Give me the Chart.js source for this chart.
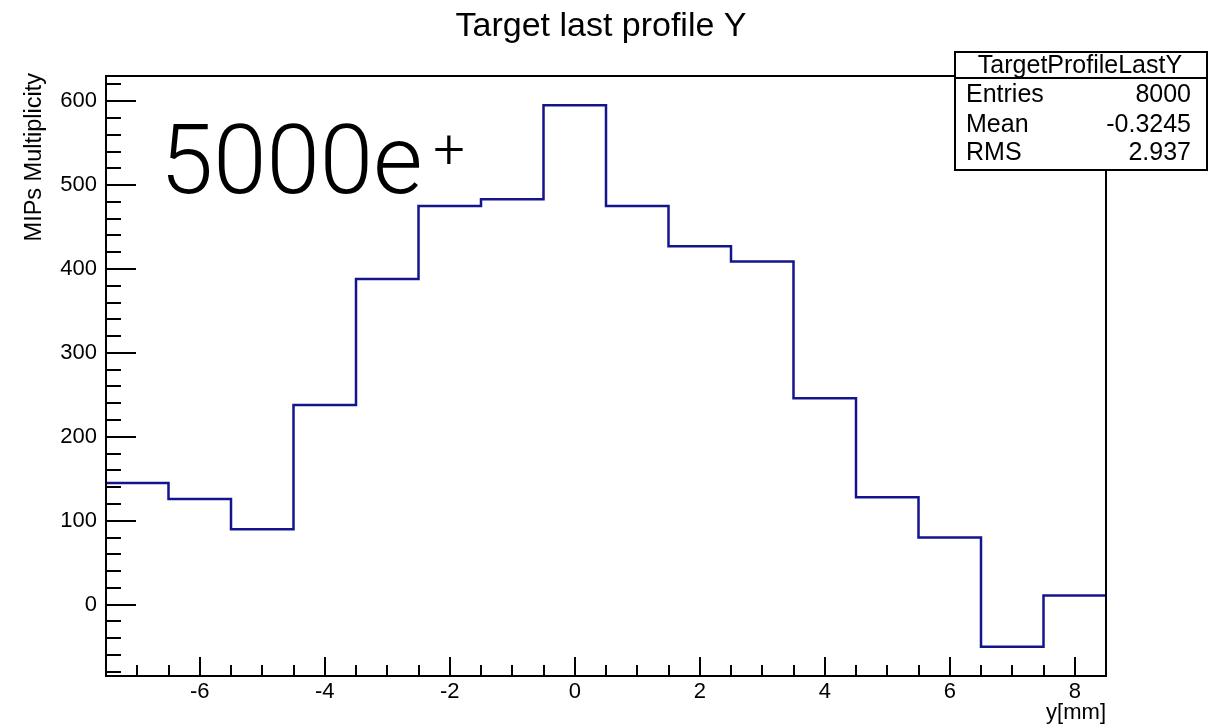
<!DOCTYPE html>
<html>
<head>
<meta charset="utf-8">
<script src="https://cdn.jsdelivr.net/npm/chart.js@4.4.0/dist/chart.umd.min.js"></script>
<style>
html, body { margin: 0; padding: 0; background: #fff; }
canvas { display: block; }
</style>
</head>
<body>
<canvas id="profile" width="1222" height="726"></canvas>
<script>
// histogram bins (centers, width 1 mm) and contents
var binCenters = [-7, -6, -5, -4, -3, -2, -1, 0, 1, 2, 3, 4, 5, 6, 7, 8];
var binValues = [145, 126, 90, 238, 388, 475, 483, 595, 475, 427, 409, 246, 128, 80, -50, 11];
var xTickLabels = [-6, -4, -2, 0, 2, 4, 6, 8];
var yTickLabels = [0, 100, 200, 300, 400, 500, 600];
var statNames = ['Entries', 'Mean', 'RMS'];
var statValues = ['8000', '-0.3245', '2.937'];

var FONT = '"Liberation Sans", Arial, sans-serif';

// histogram outline: one point per low edge, plus the last upper edge
var histPoints = [];
for (let i = 0; i < binCenters.length; i++) {
	histPoints.push({x: binCenters[i] - 0.5, y: binValues[i]});
}
histPoints.push({x: binCenters[binCenters.length - 1] + 0.5, y: binValues[binValues.length - 1]});

function drawText(ctx, s, x, y, size, align, baseline, weight, family){
	ctx.save();
	ctx.font = (weight || 'normal') + ' ' + size + 'px ' + (family || FONT);
	ctx.textAlign = align;
	ctx.textBaseline = baseline;
	ctx.fillStyle = '#000';
	ctx.fillText(s, x, y);
	ctx.restore();
}

var rootFrame = {
	id: 'rootFrame',
	afterDatasetsDraw(chart){
		const ctx = chart.ctx;
		const a = chart.chartArea;
		const xs = chart.scales.x;
		const ys = chart.scales.y;

		ctx.save();
		ctx.strokeStyle = '#000';
		ctx.lineWidth = 2;
		ctx.strokeRect(a.left, a.top, a.right - a.left, a.bottom - a.top);

		// y ticks, pointing inwards
		ctx.beginPath();
		for (let v = -80; v <= 620; v += 20) {
			let py = Math.round(ys.getPixelForValue(v));
			let len = (v % 100 === 0) ? 30 : 15;
			ctx.moveTo(a.left, py);
			ctx.lineTo(a.left + len, py);
		}
		// x ticks
		for (let v = -7; v <= 8; v += 0.5) {
			let px = Math.round(xs.getPixelForValue(v));
			let len = (v % 2 === 0) ? 19 : 11;
			ctx.moveTo(px, a.bottom);
			ctx.lineTo(px, a.bottom - len);
		}
		ctx.stroke();
		ctx.restore();

		yTickLabels.forEach(function(v){
			drawText(ctx, String(v), a.left - 9, ys.getPixelForValue(v), 22, 'right', 'middle');
		});
		xTickLabels.forEach(function(v){
			drawText(ctx, String(v), xs.getPixelForValue(v), a.bottom + 16, 22, 'center', 'middle');
		});
		drawText(ctx, 'y[mm]', a.right, 713, 22, 'right', 'middle');

		// y axis title
		ctx.save();
		ctx.translate(35, 73);
		ctx.rotate(-Math.PI / 2);
		drawText(ctx, 'MIPs Multiplicity', 0, 0, 23.5, 'right', 'middle');
		ctx.restore();

		// main title
		drawText(ctx, 'Target last profile Y', 601, 36, 34, 'center', 'alphabetic');

		// beam label
		drawText(ctx, '5000e', 160, 193, 96, 'left', 'alphabetic', '300', 'Roboto, sans-serif');
		drawText(ctx, '+', 449, 168, 56, 'center', 'alphabetic', '300', 'Roboto, sans-serif');

		// stats box
		ctx.save();
		ctx.fillStyle = '#fff';
		ctx.fillRect(955, 52, 252, 118);
		ctx.strokeStyle = '#000';
		ctx.lineWidth = 2;
		ctx.strokeRect(955, 52, 252, 118);
		ctx.beginPath();
		ctx.moveTo(955, 78);
		ctx.lineTo(1207, 78);
		ctx.stroke();
		ctx.restore();
		drawText(ctx, 'TargetProfileLastY', 1080, 66, 25, 'center', 'middle');
		var rowY = [95, 125, 153];
		statNames.forEach(function(n, i){
			drawText(ctx, n, 966, rowY[i], 25, 'left', 'middle');
			drawText(ctx, statValues[i], 1191, rowY[i], 25, 'right', 'middle');
		});
	}
};

new Chart(document.getElementById('profile'), {
	type: 'line',
	data: {
		datasets: [{
			label: 'TargetProfileLastY',
			data: histPoints,
			stepped: 'before',
			borderColor: '#14148c',
			borderWidth: 2.5,
			pointRadius: 0,
			fill: false
		}]
	},
	options: {
		responsive: false,
		animation: false,
		layout: {padding: {left: 106, top: 76, right: 116, bottom: 50}},
		plugins: {
			legend: {display: false},
			tooltip: {enabled: false}
		},
		scales: {
			x: {type: 'linear', min: -7.5, max: 8.5, display: false},
			y: {type: 'linear', min: -85, max: 630, display: false}
		}
	},
	plugins: [rootFrame]
});
</script>
</body>
</html>
